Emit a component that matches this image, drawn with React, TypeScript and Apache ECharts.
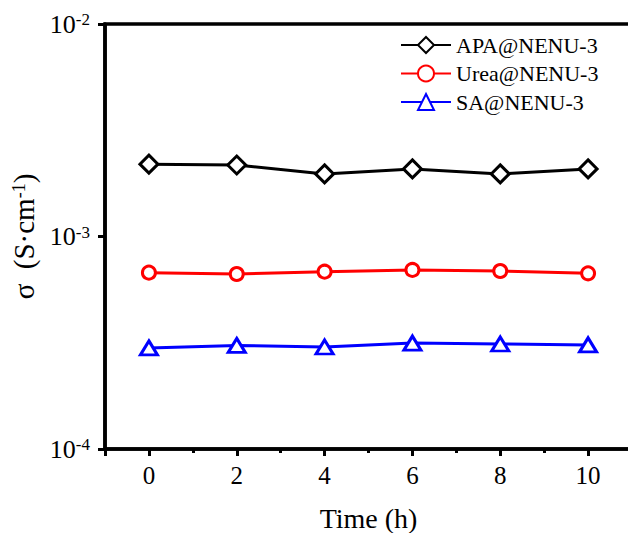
import React, { useEffect, useRef } from "react";
import * as echarts from "echarts";

const hours = [0, 2, 4, 6, 8, 10];
const apaValues = [2.19e-3, 2.17e-3, 1.97e-3, 2.08e-3, 1.97e-3, 2.08e-3];
const ureaValues = [6.76e-4, 6.66e-4, 6.83e-4, 6.96e-4, 6.88e-4, 6.71e-4];
const saValues = [2.99e-4, 3.07e-4, 3.02e-4, 3.15e-4, 3.12e-4, 3.09e-4];
const seriesNames = ["APA@NENU-3", "Urea@NENU-3", "SA@NENU-3"];

const FONT = "Liberation Serif";

const pairs = (vals: number[]) => hours.map((h, i) => [h, vals[i]]);

export default function App() {
  const ref = useRef<HTMLDivElement>(null);
  useEffect(() => {
    document.body.style.margin = "0";
    if (!ref.current) return;
    const chart = echarts.init(ref.current, null, { renderer: "svg" });
    const mk = (name: string, vals: number[], color: string, symbol: string, size: any) => ({
      name,
      type: "line",
      data: pairs(vals),
      symbol,
      symbolSize: size,
      showSymbol: true,
      lineStyle: { color, width: 3 },
      itemStyle: { color: "#fff", borderColor: color, borderWidth: 3 },
      z: 3,
    });
    chart.setOption({
      animation: false,
      textStyle: { fontFamily: FONT, color: "#000" },
      grid: {
        left: 105,
        top: 24,
        width: 527,
        height: 425,
        outerBoundsMode: "none",
        containLabel: false,
        show: true,
        borderColor: "#000",
        borderWidth: 3.5,
        backgroundColor: "transparent",
      },
      legend: {
        data: seriesNames,
        orient: "vertical",
        left: 400,
        top: 34,
        padding: 0,
        itemWidth: 50,
        itemHeight: 20,
        itemGap: 6.5,
        textStyle: { fontFamily: FONT, fontSize: 22, color: "#000" },
      },
      xAxis: [
        {
          type: "value",
          min: -1,
          max: 11,
          splitNumber: 6,
          position: "bottom",
          name: "Time (h)",
          nameLocation: "middle",
          nameGap: 55,
          nameTextStyle: { fontFamily: FONT, fontSize: 28, color: "#000" },
          axisLine: { onZero: false, lineStyle: { color: "#000", width: 3.5 } },
          axisTick: { length: 7, lineStyle: { color: "#000", width: 3 } },
          axisLabel: {
            margin: 14,
            fontFamily: FONT,
            fontSize: 25,
            color: "#000",
            formatter: (v: number) => (v % 2 === 0 && v >= 0 && v <= 10 ? String(v) : ""),
          },
          splitLine: { show: false },
        },
        {
          type: "value",
          min: -1,
          max: 11,
          interval: 1,
          position: "bottom",
          axisLine: { show: false, onZero: false },
          axisTick: { length: 4, lineStyle: { color: "#000", width: 3 } },
          axisLabel: { show: false },
          splitLine: { show: false },
        },
      ],
      yAxis: {
        type: "log",
        logBase: 10,
        min: 1e-4,
        max: 1e-2,
        name: "{a|σ  (S·cm}{s|-1}{a|)}",
        nameLocation: "middle",
        nameRotate: 90,
        nameGap: 56,
        nameTextStyle: {
          fontFamily: FONT,
          color: "#000",
          rich: {
            a: { fontFamily: FONT, fontSize: 29, color: "#000" },
            s: { fontFamily: FONT, fontSize: 18, color: "#000", verticalAlign: "top" },
          },
        },
        axisLine: { show: true, onZero: false, lineStyle: { color: "#000", width: 3.5 } },
        axisTick: { show: true, length: 7, lineStyle: { color: "#000", width: 3 } },
        axisLabel: {
          margin: 15,
          color: "#000",
          formatter: (v: number) => `{b|10}{s|${Math.round(Math.log10(v))}}`,
          rich: {
            b: { fontFamily: FONT, fontSize: 26, color: "#000" },
            s: { fontFamily: FONT, fontSize: 17, color: "#000", verticalAlign: "top" },
          },
        },
        splitLine: { show: false },
        minorTick: { show: false },
      },
      series: [
        mk(seriesNames[0], apaValues, "#000000", "diamond", 18),
        mk(seriesNames[1], ureaValues, "#ff0000", "circle", 13),
        mk(seriesNames[2], saValues, "#0000ff", "triangle", [17, 14]),
      ],
    });
    return () => chart.dispose();
  }, []);
  return <div ref={ref} style={{ width: 628, height: 533 }} />;
}
